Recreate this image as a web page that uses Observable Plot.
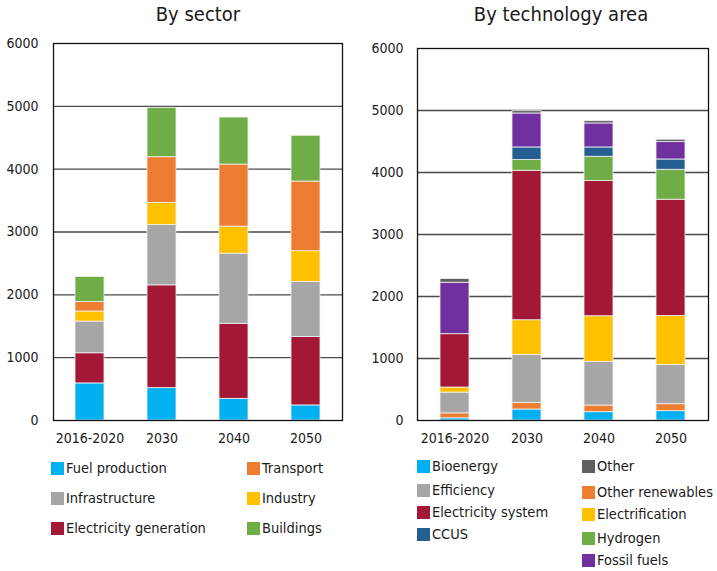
<!DOCTYPE html>
<html>
<head>
<meta charset="utf-8">
<script src="https://cdn.jsdelivr.net/npm/d3@7"></script>
<script src="https://cdn.jsdelivr.net/npm/@observablehq/plot@0.6"></script>
<style>
  html, body { margin: 0; padding: 0; background: #fff; }
  body { width: 717px; height: 571px; position: relative; overflow: hidden;
         font-family: "DejaVu Sans Condensed", Roboto, "Liberation Sans", sans-serif; color: #1a1a1a; }
  .title { position: absolute; top: 2px; font-size: 20px; text-align: center; white-space: nowrap; transform: translateX(-50%); }
  .leg { position: absolute; font-size: 14.5px; white-space: nowrap; display: flex; align-items: center; height: 16px; }
  .sw { width: 13px; height: 13px; display: inline-block; margin-right: 2px; }
</style>
</head>
<body>
<div id="root"></div>
<script>
// ---------- Data ----------
const categories = ["2016-2020", "2030", "2040", "2050"];
const yTicks = [0, 1000, 2000, 3000, 4000, 5000, 6000];

// By sector (bottom to top)
const sectorNames = ["Fuel production", "Electricity generation", "Infrastructure", "Industry", "Transport", "Buildings"];
const sectorColors = ["#00B0F0", "#A31836", "#A6A6A6", "#FFC000", "#ED7D31", "#70AD47"];
const fuelProduction = [590, 515, 345, 240];
const electricityGeneration = [480, 1636, 1195, 1089];
const infrastructure = [505, 961, 1115, 876];
const industry = [160, 351, 430, 489];
const transport = [150, 727, 988, 1109];
const buildings = [400, 786, 749, 728];
const sectorSeries = [fuelProduction, electricityGeneration, infrastructure, industry, transport, buildings];

// By technology area (bottom to top)
const techNames = ["Bioenergy", "Other renewables", "Efficiency", "Electrification", "Electricity system", "Hydrogen", "CCUS", "Fossil fuels", "Other"];
const techColors = ["#00B0F0", "#ED7D31", "#A6A6A6", "#FFC000", "#A31836", "#70AD47", "#255E91", "#7030A0", "#5F5F5F"];
const bioenergy = [35, 177, 134, 150];
const otherRenewables = [80, 108, 108, 113];
const efficiency = [335, 773, 703, 634];
const electrification = [82, 559, 736, 789];
const electricitySystem = [860, 2411, 2181, 1875];
const hydrogen = [0, 172, 392, 483];
const ccus = [0, 204, 150, 166];
const fossilFuels = [830, 548, 387, 280];
const other = [60, 37, 37, 38];
const techSeries = [bioenergy, otherRenewables, efficiency, electrification, electricitySystem, hydrogen, ccus, fossilFuels, other];

// Legend layout (name lists in column order)
const sectorLegendCols = [["Fuel production", "Infrastructure", "Electricity generation"], ["Transport", "Industry", "Buildings"]];
const techLegendCols = [["Bioenergy", "Efficiency", "Electricity system", "CCUS"], ["Other", "Other renewables", "Electrification", "Hydrogen", "Fossil fuels"]];

// ---------- Build ----------
function toRows(names, series) {
  const rows = [];
  names.forEach((n, i) => categories.forEach((c, j) => rows.push({cat: c, series: n, value: series[i][j]})));
  return rows;
}

const FONT = "'DejaVu Sans Condensed', Roboto, 'Liberation Sans', sans-serif";

function makeChart(rows, names, colors, opts) {
  return Plot.plot({
    width: opts.width,
    height: opts.height,
    marginTop: opts.marginTop,
    marginBottom: opts.marginBottom,
    marginLeft: opts.marginLeft,
    marginRight: opts.marginRight,
    style: {fontSize: "14px", fontFamily: FONT, color: "#1a1a1a", background: "white", overflow: "visible"},
    x: {domain: categories, paddingInner: 0.6, paddingOuter: 0.3, label: null, tickSize: 0, tickPadding: 13},
    y: {domain: [0, 6000], ticks: yTicks, label: null, tickSize: 0, tickPadding: opts.tickPad, tickFormat: d => String(d)},
    color: {domain: names, range: colors},
    marks: [
      Plot.ruleY(yTicks.slice(1, -1), {stroke: "#4a4a4a", strokeWidth: 1.4}),
      Plot.barY(rows, {x: "cat", y: "value", fill: "series", order: names, stroke: "#f2f2f2", strokeWidth: 0.8}),
      Plot.frame({stroke: "#111", strokeWidth: 1.3})
    ]
  });
}

const root = document.getElementById("root");

const left = makeChart(toRows(sectorNames, sectorSeries), sectorNames, sectorColors,
  {width: 358, height: 455, marginTop: 43, marginBottom: 35, marginLeft: 53, marginRight: 16, tickPad: 15});
left.style.position = "absolute"; left.style.left = "0px"; left.style.top = "0px";
root.appendChild(left);

const right = makeChart(toRows(techNames, techSeries), techNames, techColors,
  {width: 357, height: 455, marginTop: 48, marginBottom: 35, marginLeft: 57, marginRight: 9, tickPad: 14});
right.style.position = "absolute"; right.style.left = "360px"; right.style.top = "0px";
root.appendChild(right);

// Titles
function addTitle(text, cx) {
  const d = document.createElement("div");
  d.className = "title"; d.textContent = text; d.style.left = cx + "px";
  root.appendChild(d);
}
addTitle("By sector", 198);
addTitle("By technology area", 561);

// Legends
function addLegend(cols, names, colors, colX, rowYs) {
  cols.forEach((col, ci) => {
    col.forEach((name, ri) => {
      const d = document.createElement("div");
      d.className = "leg";
      d.style.left = colX[ci] + "px";
      d.style.top = (rowYs[ci][ri] - 8) + "px";
      const s = document.createElement("span");
      s.className = "sw"; s.style.background = colors[names.indexOf(name)];
      d.appendChild(s);
      d.appendChild(document.createTextNode(name));
      root.appendChild(d);
    });
  });
}
addLegend(sectorLegendCols, sectorNames, sectorColors, [51, 247], [[468, 498, 528], [468, 498, 528]]);
addLegend(techLegendCols, techNames, techColors, [417, 582], [[466, 490, 512, 534], [466, 492, 514, 538, 560]]);
</script>
</body>
</html>
